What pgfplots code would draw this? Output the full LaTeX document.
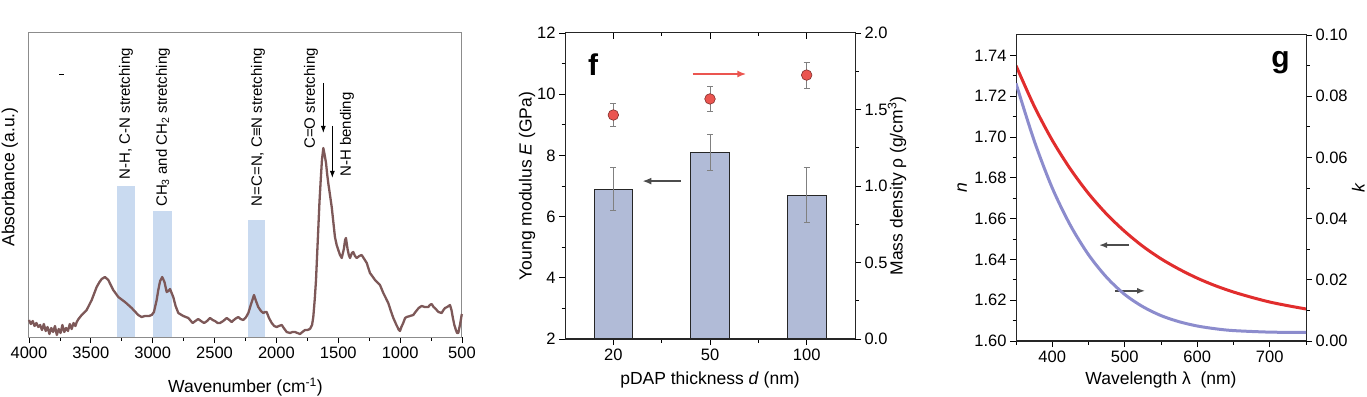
\documentclass[border=0pt]{standalone}
\usepackage{pgfplots}
\pgfplotsset{compat=1.18}
\usepackage{fontspec}
\setmainfont{Liberation Sans}
\usetikzlibrary{arrows.meta}

\definecolor{specline}{RGB}{125,88,88}
\definecolor{bandblue}{RGB}{201,218,240}
\definecolor{barfill}{RGB}{177,187,215}
\definecolor{ptred}{RGB}{235,85,80}
\definecolor{nred}{RGB}{225,45,45}
\definecolor{kblue}{RGB}{140,140,205}

\pgfplotsset{
 base/.style={scale only axis, anchor=south west, tick align=outside,
  major tick length=6bp, minor tick length=3.5bp,
  every tick/.style={black, line width=0.8bp},
  tick label style={font=\fontsize{16.5bp}{19bp}\selectfont},
  label style={font=\fontsize{17.5bp}{21bp}\selectfont},
  /pgf/number format/assume math mode=true,
  /pgf/number format/1000 sep={},
  scaled ticks=false,
  axis line style={line width=1bp},
 },
}

\begin{document}
\begin{tikzpicture}
% ---------------- Panel 1: FTIR spectrum ----------------
\begin{axis}[base, at={(29bp,60bp)}, width=433bp, height=304bp,
 xmin=500, xmax=4000, x dir=reverse, ymin=0, ymax=304,
 xtick={500,1000,1500,2000,2500,3000,3500,4000}, minor x tick num=1, xtick pos=bottom, ytick=\empty,
 axis line style={gray!90, line width=1bp}, clip=false,
 xlabel={Wavenumber (cm\textsuperscript{-1})},
 xlabel style={at={(axis description cs:0.5,-0.165)}, anchor=center},
 ylabel={Absorbance (a.u.)},
 ylabel style={at={(axis description cs:-0.044,0.526)}, anchor=center},
]
\addplot[fill=bandblue, draw=none] coordinates {(3292,151) (3144,151)} \closedcycle;
\addplot[fill=bandblue, draw=none] coordinates {(2998,126) (2847,126)} \closedcycle;
\addplot[fill=bandblue, draw=none] coordinates {(2232,117) (2090,117)} \closedcycle;
\addplot[specline, line width=2.3bp, line join=round] coordinates {
(4000,17) (3985,13) (3970,16) (3955,11) (3940,14) (3925,10) (3910,12) (3895,7) (3880,13) (3865,6)
(3850,10) (3835,3) (3820,9) (3805,5) (3790,11) (3775,2) (3760,8) (3745,4) (3730,12) (3715,5)
(3700,9) (3685,6) (3670,13) (3655,8) (3640,14) (3625,11) (3614,15) (3600,18) (3574,22) (3534,27)
(3493,37) (3453,50) (3430,55) (3412,58) (3386,60) (3359,57) (3319,47) (3278,40) (3224,35) (3170,29)
(3117,22) (3090,20) (3062,21) (3030,21) (3008,22) (2990,25) (2968,37) (2955,47) (2940,56) (2923,60)
(2905,55) (2887,45) (2873,46) (2860,48) (2847,44) (2834,40) (2815,31) (2793,24) (2753,21) (2712,19)
(2677,14) (2655,16) (2632,18) (2610,16) (2585,14) (2560,16) (2537,19) (2515,17) (2497,16) (2475,14)
(2456,14) (2430,16) (2402,19) (2380,17) (2362,15) (2335,18) (2308,20) (2290,18) (2268,17) (2245,20)
(2227,24) (2205,33) (2181,42) (2165,36) (2147,30) (2125,26) (2106,24) (2090,25) (2079,25) (2060,19)
(2038,14) (2018,11) (1998,10) (1980,11) (1957,12) (1935,8) (1917,5) (1890,4) (1870,5) (1850,5)
(1830,4) (1809,3) (1790,5) (1769,7) (1750,7) (1729,8) (1712,12) (1702,20) (1690,38) (1680,57)
(1670,85) (1662,107) (1652,135) (1642,157) (1632,177) (1621,189) (1610,182) (1599,174) (1590,163) (1581,154)
(1567,142) (1553,130) (1540,115) (1527,100) (1513,92) (1500,87) (1486,82) (1472,79) (1455,88) (1445,97)
(1438,99) (1425,88) (1415,82) (1405,79) (1390,84) (1379,85) (1365,81) (1351,79) (1330,81) (1311,82)
(1290,78) (1270,74) (1244,64) (1220,60) (1203,57) (1163,52) (1136,44) (1096,34) (1075,26) (1055,19)
(1030,12) (1010,7) (1001,6) (990,10) (975,14) (960,19) (947,20) (920,21) (894,22) (870,26)
(850,29) (826,31) (800,30) (772,30) (760,32) (745,33) (730,30) (720,29) (705,27) (690,25)
(664,24) (650,27) (637,29) (620,30) (597,32) (585,27) (575,20) (562,12) (549,7) (540,4)
(530,4) (515,13) (503,22) (500,23)
};
\begin{scope}[every node/.style={rotate=90, inner sep=0pt, font=\fontsize{15bp}{18bp}\selectfont}]
\node[anchor=east] at (axis cs:3216,289) {N-H, C-N stretching};
\node[anchor=east] at (axis cs:2917,289) {CH\textsubscript{3} and CH\textsubscript{2} stretching};
\node[anchor=east] at (axis cs:2149,289) {N=C=N, C≡N stretching};
\node[anchor=east] at (axis cs:1721,289) {C=O stretching};
\node[anchor=west] at (axis cs:1430,160) {N-H bending};
\end{scope}
\draw[-{Latex[length=7bp,width=5bp]}, line width=1bp] (axis cs:1621,254) -- (axis cs:1621,204);
\draw[-{Latex[length=7bp,width=5bp]}, line width=1bp] (axis cs:1548,211) -- (axis cs:1548,159);
\draw[line width=1bp] (axis cs:3755,262) -- (axis cs:3715,262);
\end{axis}

% ---------------- Panel f ----------------
\begin{axis}[base, at={(565bp,58bp)}, width=290bp, height=306bp,
 xmin=-0.5, xmax=2.5, ymin=2, ymax=12,
 xtick={0,1,2}, xticklabels={20,50,100}, minor xtick={0.5,1.5}, xtick pos=bottom,
 ytick={2,4,6,8,10,12}, minor ytick={3,5,7,9,11}, ytick pos=left,
 axis line style={black!85},
 xlabel={pDAP thickness \textit{d} (nm)},
 xlabel style={at={(axis description cs:0.5,-0.134)}, anchor=center},
 ylabel={Young modulus \textit{E} (GPa)},
 ylabel style={at={(axis description cs:-0.131,0.5)}, anchor=center},
]
\addplot[ybar, bar width=0.4, fill=barfill, draw=black!85, line width=0.9bp,
 error bars/.cd, y dir=both, y explicit,
 error bar style={gray, line width=0.7bp},
 error mark options={rotate=90, mark size=3bp, gray, line width=0.7bp}]
coordinates {(0,6.9) +- (0,0.7) (1,8.1) +- (0,0.6) (2,6.7) +- (0,0.9)};
\draw[-{Latex[length=9bp,width=7bp]}, line width=1.8bp, gray!60!black] (axis cs:0.696,7.16) -- (axis cs:0.30,7.16);
\draw[-{Latex[length=9bp,width=7bp]}, line width=1.8bp, ptred] (axis cs:0.82,10.66) -- (axis cs:1.376,10.66);
\node[font=\fontsize{30bp}{34bp}\selectfont\bfseries] at (axis cs:-0.208,10.98) {f};
\end{axis}
\begin{axis}[base, at={(565bp,58bp)}, width=290bp, height=306bp,
 xmin=-0.5, xmax=2.5, ymin=0, ymax=2,
 xtick=\empty, ytick={0,0.5,1,1.5,2}, minor ytick={0.25,0.75,1.25,1.75}, ytick pos=right,
 axis line style={black!85},
 yticklabel style={/pgf/number format/fixed, /pgf/number format/fixed zerofill, /pgf/number format/precision=1},
 ylabel={Mass density ρ (g/cm\textsuperscript{3})},
 ylabel style={at={(axis description cs:1.145,0.5)}, anchor=center},
]
\addplot[only marks, mark=*, mark size=5.3bp, mark options={fill=ptred, draw=ptred!55!black, line width=0.6bp},
 error bars/.cd, y dir=both, y explicit,
 error bar style={gray, line width=0.7bp},
 error mark options={rotate=90, mark size=3bp, gray, line width=0.7bp}]
coordinates {(0,1.464) +- (0,0.075) (1,1.569) +- (0,0.08) (2,1.725) +- (0,0.085)};
\end{axis}
% top inward ticks of panel f
\begin{axis}[base, at={(565bp,58bp)}, width=290bp, height=306bp, tick align=inside,
 xmin=-0.5, xmax=2.5, ymin=0, ymax=1,
 xtick={0,1,2}, minor xtick={0.5,1.5}, xticklabels={}, xtick pos=top, ytick=\empty,
 axis line style={black!85}]
\end{axis}

% ---------------- Panel g ----------------
\begin{axis}[base, at={(1016bp,56bp)}, width=290bp, height=306bp,
 xmin=350, xmax=750, ymin=1.60, ymax=1.75,
 xtick={400,500,600,700}, minor xtick={350,450,550,650,750}, xtick pos=bottom,
 ytick={1.60,1.62,1.64,1.66,1.68,1.70,1.72,1.74}, minor ytick={1.61,1.63,1.65,1.67,1.69,1.71,1.73}, ytick pos=left,
 axis line style={black!85},
 yticklabel style={/pgf/number format/fixed, /pgf/number format/fixed zerofill, /pgf/number format/precision=2},
 xlabel={Wavelength λ\ \ (nm)},
 xlabel style={at={(axis description cs:0.5,-0.127)}, anchor=center},
 ylabel={\textit{n}},
 ylabel style={at={(axis description cs:-0.186,0.5)}, anchor=center},
]
\addplot[nred, line width=3bp, smooth] coordinates {
(350,1.7350) (375,1.7152) (400,1.6984) (425,1.6843) (450,1.6723) (475,1.6622) (500,1.6537) (525,1.6464)
(550,1.6403) (575,1.6352) (600,1.6308) (625,1.6271) (650,1.6240) (675,1.6214) (700,1.6191) (725,1.6173) (750,1.6157)};
\draw[-{Latex[length=8bp,width=6bp]}, line width=1.5bp, black!70] (axis cs:506,1.647) -- (axis cs:464.5,1.647);
\draw[-{Latex[length=8bp,width=6bp]}, line width=1.5bp, black!70] (axis cs:486.5,1.6246) -- (axis cs:528,1.6246);
\node[font=\fontsize{30bp}{34bp}\selectfont\bfseries] at (axis cs:715,1.7364) {g};
\end{axis}
\begin{axis}[base, at={(1016bp,56bp)}, width=290bp, height=306bp,
 xmin=350, xmax=750, ymin=0, ymax=0.10,
 xtick=\empty, ytick={0,0.02,0.04,0.06,0.08,0.10}, minor ytick={0.01,0.03,0.05,0.07,0.09}, ytick pos=right,
 axis line style={black!85},
 yticklabel style={/pgf/number format/fixed, /pgf/number format/fixed zerofill, /pgf/number format/precision=2},
 ylabel={\textit{k}},
 ylabel style={at={(axis description cs:1.180,0.5)}, anchor=center},
]
\addplot[kblue, line width=3bp, smooth] coordinates {
(350,0.0842) (375,0.0655) (400,0.0500) (425,0.0378) (450,0.0282) (475,0.0208) (500,0.0152) (525,0.0112)
(550,0.0083) (575,0.0063) (600,0.0049) (625,0.0040) (650,0.0034) (700,0.0029) (750,0.0028)};
\end{axis}
\pgfresetboundingbox
\path[use as bounding box] (0,0) rectangle (1367bp,397bp);
\end{tikzpicture}
\end{document}
